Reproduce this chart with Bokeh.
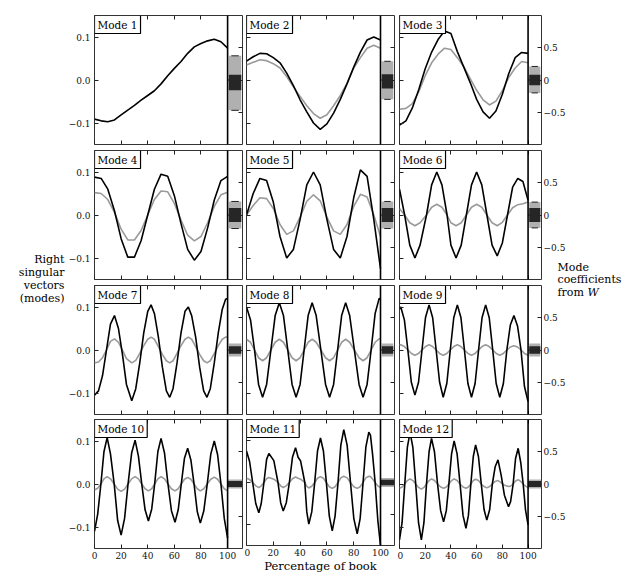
from bokeh.plotting import figure
from bokeh.layouts import row, column
from bokeh.models import Range1d, LinearAxis, FixedTicker, Label, Span
from bokeh.embed import file_html
from bokeh.resources import INLINE

FONT = "DejaVu Serif"

# ---------------- data ----------------
x5 = [0, 5, 10, 15, 20, 25, 30, 35, 40, 45, 50, 55, 60, 65, 70, 75, 80, 85, 90, 95, 100]

m1_x = x5
m1_black = [-0.091, -0.095, -0.097, -0.093, -0.081, -0.070, -0.059, -0.047, -0.036, -0.025, -0.009,
            0.010, 0.027, 0.043, 0.062, 0.077, 0.085, 0.091, 0.095, 0.089, 0.074]
m1_grey = None

m2_x = x5
m2_black = [0.044, 0.054, 0.062, 0.061, 0.052, 0.040, 0.016, -0.013, -0.046, -0.074, -0.100,
            -0.115, -0.102, -0.077, -0.045, -0.009, 0.030, 0.065, 0.093, 0.100, 0.093]
m2_grey = [0.035, 0.041, 0.047, 0.045, 0.038, 0.028, 0.008, -0.016, -0.038, -0.060, -0.078,
           -0.089, -0.081, -0.060, -0.036, -0.008, 0.028, 0.052, 0.074, 0.081, 0.074]

m3_x = x5
m3_black = [-0.105, -0.095, -0.065, -0.022, 0.026, 0.065, 0.094, 0.114, 0.108, 0.066, 0.030,
            -0.006, -0.045, -0.074, -0.089, -0.072, -0.033, 0.015, 0.052, 0.064, 0.062]
m3_grey = [-0.068, -0.066, -0.055, -0.027, 0.010, 0.040, 0.060, 0.074, 0.071, 0.052, 0.031,
           0.003, -0.024, -0.046, -0.058, -0.049, -0.025, 0.006, 0.028, 0.043, 0.040]

m4_x = x5
m4_black = [0.088, 0.085, 0.060, 0.010, -0.055, -0.098, -0.098, -0.060, 0.000, 0.060, 0.095,
            0.090, 0.045, -0.020, -0.080, -0.105, -0.085, -0.030, 0.035, 0.080, 0.090]
m4_grey = [0.052, 0.050, 0.036, 0.006, -0.033, -0.058, -0.058, -0.036, 0.000, 0.036, 0.056,
           0.054, 0.027, -0.012, -0.047, -0.060, -0.050, -0.018, 0.020, 0.047, 0.053]

m5_x = x5
m5_black = [0.000, 0.050, 0.085, 0.080, 0.030, -0.050, -0.100, -0.080, -0.010, 0.070, 0.100,
            0.070, -0.010, -0.080, -0.100, -0.050, 0.040, 0.105, 0.090, -0.010, -0.125]
m5_grey = [0.000, 0.022, 0.040, 0.038, 0.015, -0.022, -0.045, -0.037, -0.005, 0.032, 0.047,
           0.033, -0.005, -0.037, -0.045, -0.022, 0.020, 0.048, 0.042, 0.000, -0.050]

m6_x = [0, 4, 8, 12, 16, 21, 25, 29, 33, 37, 40, 44, 48, 52, 56, 60, 64, 68, 72, 76, 80, 84,
        88, 92, 96, 100]
m6_black = [0.060, 0.000, -0.070, -0.100, -0.070, 0.000, 0.070, 0.100, 0.070, 0.000, -0.070,
            -0.100, -0.070, 0.000, 0.070, 0.100, 0.070, 0.000, -0.070, -0.095, -0.065, 0.000,
            0.065, 0.085, 0.078, 0.034]
m6_grey = [0.015, 0.000, -0.018, -0.025, -0.018, 0.000, 0.018, 0.025, 0.018, 0.000, -0.018,
           -0.025, -0.018, 0.000, 0.018, 0.025, 0.018, 0.000, -0.018, -0.025, -0.017, 0.000,
           0.017, 0.024, 0.026, 0.030]

m7_x = [0, 3, 6, 9, 12, 15, 18, 21, 24, 28, 31, 34, 37, 40, 42.5, 45, 48, 51, 54, 56.5, 59,
        62, 65, 68, 70.5, 73, 76, 79, 82, 84.5, 87, 90, 93, 96, 98.5, 100]
m7_black = [-0.105, -0.095, -0.060, 0.000, 0.060, 0.080, 0.050, -0.010, -0.080, -0.118, -0.090,
            -0.030, 0.040, 0.090, 0.105, 0.085, 0.030, -0.040, -0.095, -0.110, -0.090, -0.030,
            0.040, 0.090, 0.100, 0.080, 0.030, -0.040, -0.095, -0.110, -0.090, -0.030, 0.040,
            0.095, 0.118, 0.120]
m7_grey = [-0.030, -0.028, -0.018, 0.000, 0.020, 0.026, 0.018, 0.000, -0.020, -0.030, -0.024,
           -0.008, 0.010, 0.025, 0.030, 0.025, 0.008, -0.010, -0.025, -0.030, -0.025, -0.008,
           0.010, 0.025, 0.030, 0.025, 0.008, -0.010, -0.025, -0.030, -0.025, -0.008, 0.010,
           0.025, 0.030, 0.030]

m8_x = [0, 3, 6, 9, 12, 15, 18.2, 21.4, 24.5, 27.6, 30.8, 34, 37, 40, 43, 46, 49, 52, 55.5,
        59, 62, 65, 68, 71, 74, 77, 80.5, 84, 87, 90, 93, 96, 99, 100]
m8_black = [0.100, 0.070, 0.000, -0.080, -0.110, -0.080, 0.000, 0.080, 0.110, 0.080, 0.000,
            -0.080, -0.110, -0.080, 0.000, 0.080, 0.110, 0.080, 0.000, -0.080, -0.110, -0.080,
            0.000, 0.080, 0.110, 0.080, 0.000, -0.080, -0.110, -0.080, 0.000, 0.085, 0.120, 0.118]
m8_grey = [0.025, 0.018, 0.000, -0.018, -0.025, -0.018, 0.000, 0.018, 0.025, 0.018, 0.000,
           -0.018, -0.025, -0.018, 0.000, 0.018, 0.025, 0.018, 0.000, -0.018, -0.025, -0.018,
           0.000, 0.018, 0.025, 0.018, 0.000, -0.018, -0.025, -0.018, 0.000, 0.018, 0.026, 0.026]

m9_x = [0, 1, 3.8, 6.5, 9.2, 12, 14.8, 17.5, 20.2, 23, 25.8, 28.5, 31.2, 34, 36.8, 39.5, 42.2,
        45, 47.8, 50.5, 53.2, 56, 58.8, 61.5, 64.2, 67, 69.8, 72.5, 75.2, 78, 80.8, 83.5, 86.2,
        89, 91.8, 94.5, 97.2, 100]
m9_black = [0.095, 0.100, 0.070, 0.000, -0.075, -0.105, -0.075, 0.000, 0.075, 0.105, 0.075,
            0.000, -0.075, -0.110, -0.078, 0.000, 0.075, 0.105, 0.075, 0.000, -0.078, -0.110,
            -0.078, 0.000, 0.075, 0.105, 0.075, 0.000, -0.078, -0.110, -0.078, 0.000, 0.058,
            0.080, 0.056, 0.000, -0.085, -0.120]
m9_grey = [0.012, 0.012, 0.008, 0.000, -0.008, -0.012, -0.008, 0.000, 0.008, 0.012, 0.008,
           0.000, -0.008, -0.012, -0.008, 0.000, 0.008, 0.012, 0.008, 0.000, -0.008, -0.012,
           -0.008, 0.000, 0.008, 0.012, 0.008, 0.000, -0.008, -0.012, -0.008, 0.000, 0.007,
           0.010, 0.007, 0.000, -0.008, -0.012]

m10_x = [0, 2.4, 4.8, 7.1, 9.5, 12, 14.8, 17.4, 20, 22.6, 25.2, 27.9, 30.5, 33, 35.5, 38, 40.5,
         43, 45.2, 47.6, 50, 52.6, 55.2, 57.8, 60.5, 62.9, 65.2, 67.6, 70, 72.4, 74.8, 77.2,
         79.5, 82.1, 84.7, 87.4, 90, 92.5, 95, 97.5, 100]
m10_black = [-0.110, -0.070, 0.000, 0.075, 0.108, 0.070, 0.000, -0.085, -0.119, -0.080, 0.000,
             0.072, 0.102, 0.065, 0.000, -0.060, -0.086, -0.058, 0.000, 0.075, 0.106, 0.072,
             0.000, -0.062, -0.089, -0.060, 0.000, 0.060, 0.083, 0.056, 0.000, -0.064, -0.091,
             -0.063, 0.000, 0.070, 0.100, 0.068, 0.000, -0.080, -0.126]
m10_grey = [-0.014, -0.010, 0.000, 0.012, 0.017, 0.012, 0.000, -0.012, -0.017, -0.012, 0.000,
            0.012, 0.017, 0.012, 0.000, -0.011, -0.016, -0.011, 0.000, 0.012, 0.017, 0.012,
            0.000, -0.011, -0.016, -0.011, 0.000, 0.011, 0.015, 0.011, 0.000, -0.011, -0.016,
            -0.011, 0.000, 0.011, 0.016, 0.011, 0.000, -0.011, -0.016]

m11_x = [0, 2.3, 4.6, 6.9, 9.2, 11, 13, 15, 16.7, 20.4, 23.5, 25.5, 27.4, 29.7, 32, 34.3, 36.6,
         38.5, 40.3, 42, 43.5, 45, 46.5, 48.7, 50.9, 53, 55.2, 57.4, 59.6, 61.8, 64, 66.1, 68.3,
         70.4, 72.6, 75.1, 77.6, 80.1, 82.6, 84.8, 87, 89.1, 91.3, 92.5, 94, 96, 98, 100]
m11_black = [0.075, 0.050, 0.000, -0.050, -0.072, -0.050, 0.000, 0.055, 0.069, 0.052, 0.000,
             -0.048, -0.068, -0.048, 0.000, 0.060, 0.083, 0.060, 0.052, 0.025, 0.000, -0.070,
             -0.099, -0.070, 0.000, 0.075, 0.106, 0.075, 0.000, -0.080, -0.115, -0.080, 0.000,
             0.089, 0.126, 0.089, 0.000, -0.086, -0.122, -0.086, 0.000, 0.085, 0.120, 0.113,
             0.070, 0.000, -0.090, -0.150]
m11_grey = [0.010, 0.007, 0.000, -0.008, -0.012, -0.008, 0.000, 0.009, 0.012, 0.008, 0.000,
            -0.008, -0.012, -0.008, 0.000, 0.009, 0.013, 0.010, 0.008, 0.004, 0.000, -0.009,
            -0.013, -0.009, 0.000, 0.010, 0.014, 0.010, 0.000, -0.010, -0.014, -0.010, 0.000,
            0.011, 0.015, 0.011, 0.000, -0.010, -0.014, -0.010, 0.000, 0.011, 0.015, 0.014,
            0.009, 0.000, -0.008, -0.012]

m12_x = [0, 2, 4.1, 6.1, 8.2, 10.4, 12.6, 14.8, 17, 19, 21, 23, 24.9, 27.2, 29.6, 32, 34.3,
         36.4, 38.4, 40.5, 42.5, 44.8, 47.1, 49.4, 51.7, 53.6, 55.5, 57.4, 59.2, 61.4, 63.6,
         65.8, 67.9, 70.1, 72.2, 74.4, 76.6, 79.1, 81.6, 84.8, 86.4, 88.4, 90.3, 92.3, 94.3,
         96.2, 98, 100]
m12_black = [-0.130, -0.090, 0.000, 0.085, 0.120, 0.085, 0.000, -0.090, -0.130, -0.090, 0.000,
             0.075, 0.106, 0.075, 0.000, -0.062, -0.088, -0.062, 0.000, 0.070, 0.100, 0.070,
             0.000, -0.073, -0.103, -0.073, 0.000, 0.064, 0.091, 0.064, 0.000, -0.060, -0.084,
             -0.060, 0.000, 0.040, 0.056, 0.020, -0.026, -0.053, -0.041, 0.000, 0.060, 0.083,
             0.050, 0.000, -0.060, -0.095]
m12_grey = [-0.010, -0.007, 0.000, 0.008, 0.012, 0.008, 0.000, -0.008, -0.012, -0.008, 0.000,
            0.008, 0.012, 0.008, 0.000, -0.007, -0.010, -0.007, 0.000, 0.008, 0.012, 0.008,
            0.000, -0.007, -0.010, -0.007, 0.000, 0.008, 0.011, 0.008, 0.000, -0.006, -0.009,
            -0.006, 0.000, 0.006, 0.008, 0.003, -0.003, -0.006, -0.005, 0.000, 0.007, 0.010,
            0.006, 0.000, -0.005, -0.008]

MODES = [
    (m1_x, m1_black, m1_grey), (m2_x, m2_black, m2_grey), (m3_x, m3_black, m3_grey),
    (m4_x, m4_black, m4_grey), (m5_x, m5_black, m5_grey), (m6_x, m6_black, m6_grey),
    (m7_x, m7_black, m7_grey), (m8_x, m8_black, m8_grey), (m9_x, m9_black, m9_grey),
    (m10_x, m10_black, m10_grey), (m11_x, m11_black, m11_grey), (m12_x, m12_black, m12_grey),
]
mode_labels = ["Mode %d" % (i + 1) for i in range(12)]

# mode coefficients from W: spread of the strip clouds (outer extent and dense core)
coef_whisker_hi = [0.375, 0.29, 0.21, 0.21, 0.21, 0.20, 0.10, 0.10, 0.10, 0.07, 0.07, 0.07]
coef_whisker_lo = [-0.47, -0.30, -0.20, -0.21, -0.21, -0.20, -0.10, -0.10, -0.10, -0.07, -0.07, -0.07]
coef_core_hi = [0.08, 0.09, 0.08, 0.11, 0.11, 0.11, 0.06, 0.06, 0.06, 0.045, 0.045, 0.045]
coef_core_lo = [-0.16, -0.13, -0.08, -0.11, -0.11, -0.11, -0.06, -0.06, -0.06, -0.045, -0.045, -0.045]

x_ticks = [0, 20, 40, 60, 80, 100]
y_ticks = [-0.1, 0, 0.1]
y_tick_labels = {-0.1: "\u22120.1", 0: "0.0", 0.1: "0.1"}
coef_ticks = [-0.5, 0, 0.5]

left_lines = ["Right", "singular", "vectors", "(modes)"]
right_lines = ["Mode", "coefficients"]
x_title = "Percentage of book"

# ---------------- layout constants (pixels) ----------------
FRAME_H = 129
MAIN_W = 134
STRIP_W = [15, 14, 14]
LEFT_B = [28, 2, 2]
RIGHT_B = [2, 3, 21]
TOP_B = [15, 3, 3, 3]
BOT_B = [3, 3, 2, 27]
TOTAL_H = sum(TOP_B) + sum(BOT_B) + 4 * FRAME_H


def add_axis(p, side, ticks, show, range_name=None, overrides=None, size="9px", standoff=3):
    kw = {}
    if range_name:
        kw["y_range_name"] = range_name
    ax = LinearAxis(ticker=FixedTicker(ticks=ticks), major_tick_in=4, major_tick_out=0,
                    minor_tick_in=0, minor_tick_out=0, axis_line_color=None,
                    major_tick_line_color="#222222", major_tick_line_width=1, **kw)
    if show:
        ax.major_label_text_font = FONT
        ax.major_label_text_font_size = size
        ax.major_label_standoff = standoff
        ax.major_label_text_color = "#111111"
        if overrides:
            ax.major_label_overrides = overrides
    else:
        ax.major_label_text_font_size = "0px"
        ax.major_label_text_alpha = 0
        ax.major_label_standoff = 0
    p.add_layout(ax, side)
    return ax


def make_panel(r, c):
    k = r * 3 + c
    xs, yb, yg = MODES[k]
    fw = MAIN_W + STRIP_W[c]
    xend = 100.0 * fw / MAIN_W
    h = TOP_B[r] + FRAME_H + BOT_B[r]
    w = LEFT_B[c] + fw + RIGHT_B[c]
    p = figure(width=w, height=h, x_range=Range1d(0, xend), y_range=Range1d(-0.15, 0.15),
               output_backend="svg", toolbar_location=None, title=None,
               min_border_left=LEFT_B[c], min_border_right=RIGHT_B[c],
               min_border_top=TOP_B[r], min_border_bottom=BOT_B[r],
               x_axis_location=None, y_axis_location=None)
    p.extra_y_ranges = {"coef": Range1d(-1.0, 1.0)}
    p.grid.visible = False
    p.outline_line_color = "#333333"
    p.outline_line_width = 1
    p.background_fill_color = "white"
    p.border_fill_color = "white"

    add_axis(p, "left", y_ticks, c == 0, overrides=y_tick_labels, standoff=4)
    add_axis(p, "right", coef_ticks, c == 2, range_name="coef", standoff=2)
    add_axis(p, "above", x_ticks, False)
    bx = add_axis(p, "below", x_ticks, r == 3, standoff=3)
    if r == 3 and c == 1:
        bx.axis_label = x_title
        bx.axis_label_text_font = FONT
        bx.axis_label_text_font_size = "11.5px"
        bx.axis_label_text_font_style = "normal"
        bx.axis_label_standoff = 0
        bx.axis_label_text_color = "black"

    # curves
    if yg is not None:
        p.line(xs, yg, line_color="#9a9a9a", line_width=1.6)
    p.line(xs, yb, line_color="black", line_width=1.6)

    # divider between curve and coefficient strip
    p.add_layout(Span(location=100, dimension="height", line_color="black", line_width=1.6))

    # coefficient strip
    pad = 0.9 if r < 3 else 0.2
    p.quad(left=[100 + pad], right=[xend - pad], bottom=[coef_whisker_lo[k]], top=[coef_whisker_hi[k]],
           y_range_name="coef", fill_color="#b0b0b0", line_color=None)
    p.quad(left=[100 + pad], right=[xend - pad], bottom=[coef_core_lo[k]], top=[coef_core_hi[k]],
           y_range_name="coef", fill_color="#262626", line_color=None)
    if r < 2:
        p.segment(x0=[102.8, 102.8], x1=[xend - 2.8, xend - 2.8],
                  y0=[coef_whisker_hi[k], coef_whisker_lo[k]], y1=[coef_whisker_hi[k], coef_whisker_lo[k]],
                  y_range_name="coef", line_color="#222222", line_width=1)
    p.segment(x0=[100], x1=[101.8], y0=[0], y1=[0], y_range_name="coef", line_color="#222222", line_width=1)

    # mode label box
    p.add_layout(Label(x=0, y=0.15, x_offset=0, y_offset=0, text=mode_labels[k],
                       text_font=FONT, text_font_size="10.5px", text_align="left",
                       text_baseline="top", text_color="black",
                       background_fill_color="white", border_line_color="black",
                       border_line_width=1.2, padding=3))
    return p


cols = []
for c in range(3):
    cols.append(column(*[make_panel(r, c) for r in range(4)]))

# left annotation
LW = 65
lf = figure(width=LW, height=TOTAL_H, x_range=Range1d(0, LW), y_range=Range1d(TOTAL_H, 0),
            output_backend="svg", toolbar_location=None, title=None, min_border=0,
            x_axis_location=None, y_axis_location=None)
lf.outline_line_color = None
lf.grid.visible = False
for txt, ypage in zip(left_lines, [259, 272, 285, 298]):
    lf.add_layout(Label(x=LW - 1, y=ypage, text=txt, text_font=FONT, text_font_size="11px",
                        text_align="right", text_baseline="middle", text_color="black"))

# right annotation (transparent, slightly overlapping the last column)
RW = 76
rf = figure(width=RW, height=TOTAL_H, x_range=Range1d(0, RW), y_range=Range1d(TOTAL_H, 0),
            output_backend="svg", toolbar_location=None, title=None, min_border=0,
            x_axis_location=None, y_axis_location=None, margin=(0, 0, 0, -12))
rf.outline_line_color = None
rf.grid.visible = False
rf.background_fill_color = None
rf.border_fill_color = None
for txt, ypage in zip(right_lines, [267, 279]):
    rf.add_layout(Label(x=1, y=ypage, text=txt, text_font=FONT, text_font_size="11px",
                        text_align="left", text_baseline="middle", text_color="black"))
rf.add_layout(Label(x=1, y=292, text="from", text_font=FONT, text_font_size="11px",
                    text_align="left", text_baseline="middle", text_color="black"))
rf.add_layout(Label(x=31, y=292, text="W", text_font=FONT, text_font_size="11px",
                    text_font_style="italic", text_align="left", text_baseline="middle",
                    text_color="black"))

layout = row(lf, *cols, rf)
open("out.html", "w").write(file_html(layout, INLINE))
